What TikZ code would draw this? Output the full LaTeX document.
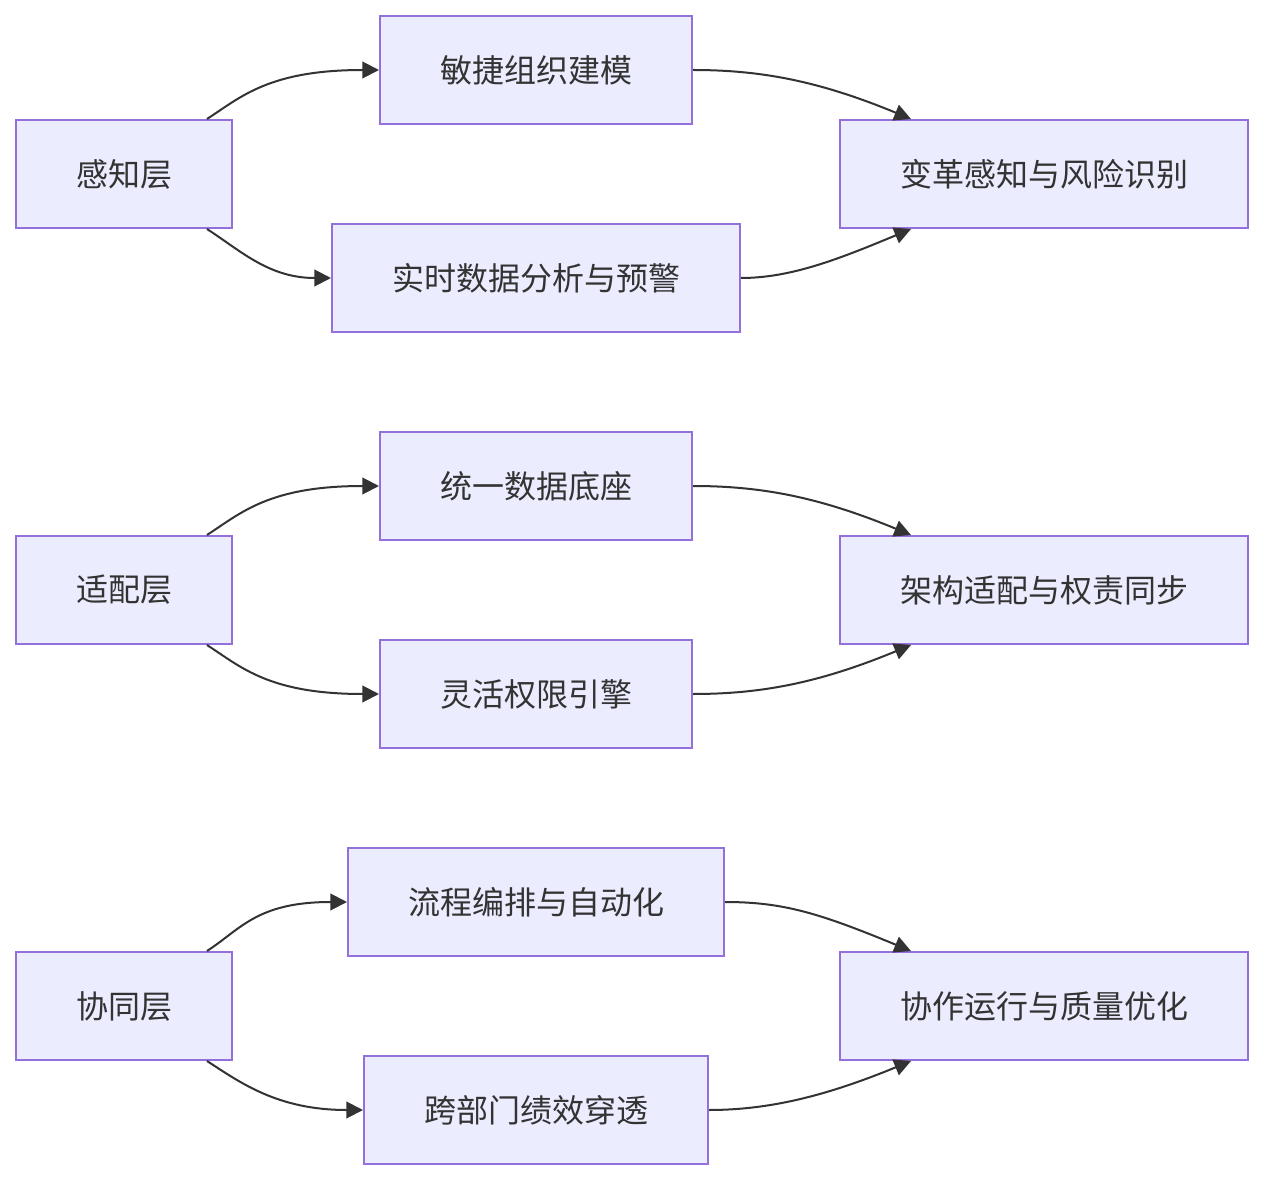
\documentclass[tikz,border=0pt]{standalone}
\usepackage{fontspec}
\setmainfont{Noto Sans CJK SC}
\usetikzlibrary{arrows.meta, positioning, calc}
\definecolor{boxfill}{HTML}{ECECFF}
\definecolor{boxline}{HTML}{9370DB}
\definecolor{linkdark}{HTML}{333333}
\tikzset{
  stagebox/.style={rectangle, draw=boxline, fill=boxfill, line width=1.5pt,
    minimum height=81pt, inner sep=0pt, text=linkdark,
    font=\fontsize{24}{28}\selectfont},
  link/.style={-{Triangle[length=12.5pt, width=12.5pt]}, line width=1.5pt, color=linkdark}
}
\begin{document}
\begin{tikzpicture}[x=0.75pt, y=-0.75pt]
  \useasboundingbox (0,0) rectangle (1264,1180);
  \fill[white] (0,0) rectangle (1264,1180);

  % ── 感知层 ────────────────────────────────────────────────────────────────
  \node[stagebox, minimum width=162pt] (sense)  at (124,174)  {感知层};
  \node[stagebox, minimum width=234pt] (agile)  at (536,70)   {敏捷组织建模};
  \node[stagebox, minimum width=306pt] (alert)  at (536,278)  {实时数据分析与预警};
  \node[stagebox, minimum width=306pt] (risk)   at (1044,174) {变革感知与风险识别};

  \draw[link] ($(sense.north east)+(-26,0)$) .. controls +(34,-22) and +(-110,0) .. (agile.west);
  \draw[link] ($(sense.south east)+(-26,0)$) .. controls +(34,22) and +(-62,0) .. (alert.west);
  \draw[link] (agile.east) .. controls +(68,0) and +(-92,-38) .. ($(risk.north west)+(72,0)$);
  \draw[link] (alert.east) .. controls +(50,0) and +(-72,30) .. ($(risk.south west)+(72,0)$);

  % ── 适配层 ────────────────────────────────────────────────────────────────
  \node[stagebox, minimum width=162pt] (adapt)  at (124,590)  {适配层};
  \node[stagebox, minimum width=234pt] (base)   at (536,486)  {统一数据底座};
  \node[stagebox, minimum width=234pt] (perm)   at (536,694)  {灵活权限引擎};
  \node[stagebox, minimum width=306pt] (sync)   at (1044,590) {架构适配与权责同步};

  \draw[link] ($(adapt.north east)+(-26,0)$) .. controls +(34,-22) and +(-110,0) .. (base.west);
  \draw[link] ($(adapt.south east)+(-26,0)$) .. controls +(34,22) and +(-110,0) .. (perm.west);
  \draw[link] (base.east) .. controls +(68,0) and +(-92,-38) .. ($(sync.north west)+(72,0)$);
  \draw[link] (perm.east) .. controls +(68,0) and +(-92,38) .. ($(sync.south west)+(72,0)$);

  % ── 协同层 ────────────────────────────────────────────────────────────────
  \node[stagebox, minimum width=162pt] (coop)   at (124,1006)  {协同层};
  \node[stagebox, minimum width=282pt] (flow)   at (536,902)   {流程编排与自动化};
  \node[stagebox, minimum width=258pt] (kpi)    at (536,1110)  {跨部门绩效穿透};
  \node[stagebox, minimum width=306pt] (qual)   at (1044,1006) {协作运行与质量优化};

  \draw[link] ($(coop.north east)+(-26,0)$) .. controls +(34,-22) and +(-90,0) .. (flow.west);
  \draw[link] ($(coop.south east)+(-26,0)$) .. controls +(34,22) and +(-85,0) .. (kpi.west);
  \draw[link] (flow.east) .. controls +(58,0) and +(-92,-38) .. ($(qual.north west)+(72,0)$);
  \draw[link] (kpi.east) .. controls +(60,0) and +(-85,35) .. ($(qual.south west)+(72,0)$);
\end{tikzpicture}
\end{document}
